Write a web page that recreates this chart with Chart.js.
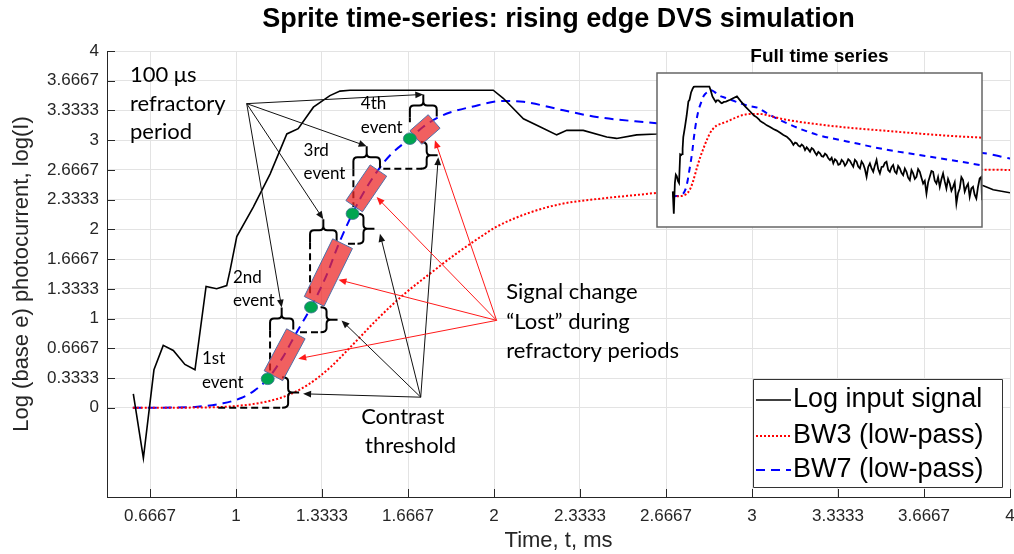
<!DOCTYPE html>
<html><head><meta charset="utf-8">
<script src="https://cdn.jsdelivr.net/npm/chart.js@4.4.1/dist/chart.umd.min.js"></script>
<style>
html,body{margin:0;padding:0;background:#fff;}
#wrap{position:relative;width:1014px;height:554px;overflow:hidden;}
#main{position:absolute;left:0;top:0;}
#inset{position:absolute;left:650px;top:40px;}
</style></head><body>
<div id="wrap"><canvas id="main" width="1014" height="554"></canvas><canvas id="inset" width="364" height="200"></canvas></div>
<script>
// ---------------- data ----------------
const xTickLabels = ['0.6667','1','1.3333','1.6667','2','2.3333','2.6667','3','3.3333','3.6667','4'];
const yTickLabels = ['0','0.3333','0.6667','1','1.3333','1.6667','2','2.3333','2.6667','3','3.3333','3.6667','4'];

// Log input signal (time in ms, value)
const tSignal = [0.602,0.641,0.682,0.718,0.757,0.802,0.841,0.884,0.925,0.964,0.977,1.003,1.067,1.132,1.197,1.241,1.300,1.364,1.403,1.442,1.997,2.036,2.114,2.178,2.243,2.282,2.346,2.437,2.475,2.553,2.630,
 2.790,2.900,3.050,3.200,3.380,3.554,3.700,3.808,3.897,3.935,4.000,4.061,4.190,4.315,4.440,4.569,4.700,4.823,4.950,
 5.077,5.140,5.204,5.268,5.331,5.395,5.458,5.521,5.584,5.648,5.711,5.775,5.838,5.902,5.965,6.028,6.092,6.155,6.219,6.283,6.346,6.410,6.473,6.537,6.600,6.664,6.727,6.790,6.854,6.918,6.981,7.045,7.108,7.171,7.234,7.298,7.361,7.425,7.488,7.551,7.615,7.678,7.742,7.805,7.869,7.932,7.996,8.059,8.123,8.187,8.250,8.313,8.377,8.440,8.504,8.568,8.631,8.694,8.757,8.821,8.884,8.948,9.011,9.074,9.138,9.201,9.265,9.328,9.392,9.455,9.519,9.582,9.646,9.709,9.773,9.836,9.900,9.963,10.027,10.090,10.154,10.217,10.281,10.344,10.407,10.471,10.534,10.598,10.661,10.724,10.788,10.851,10.915,10.978,11.042,11.105,11.169,11.233,11.296,11.359,11.423,11.486,11.550,11.613,11.677,11.740,11.804,11.867,11.930,11.994,12.057,12.120,12.184,12.247,12.311,12.375,12.400];
const logSignal = [0.157,-0.565,0.426,0.700,0.643,0.486,0.426,1.360,1.335,1.370,1.540,1.920,2.250,2.620,3.070,3.130,3.370,3.500,3.550,3.560,3.560,3.470,3.240,3.150,3.060,3.110,3.110,3.035,3.020,3.060,3.070,
 3.130,3.180,3.240,3.080,2.900,2.750,2.620,2.560,2.490,2.445,2.410,2.380,2.300,2.250,2.180,2.130,2.060,1.989,1.935,
 1.826,1.760,1.663,1.740,1.717,1.640,1.609,1.680,1.630,1.500,1.587,1.520,1.446,1.560,1.522,1.420,1.337,1.440,1.391,1.300,1.283,1.380,1.337,1.230,1.174,1.250,1.065,1.200,1.152,1.020,1.043,1.180,1.120,0.990,1.065,1.200,1.152,1.050,0.957,1.180,1.120,0.960,0.902,1.130,1.043,0.880,0.630,0.950,1.065,0.900,0.793,1.000,1.174,0.880,0.739,0.950,0.957,1.080,1.120,0.850,0.793,0.940,1.011,0.800,0.739,0.980,0.902,0.760,0.685,0.900,0.793,0.600,0.522,0.850,0.739,0.560,0.630,0.880,0.793,0.600,0.413,0.500,0.087,0.450,0.630,0.820,0.793,0.500,0.413,0.620,0.304,0.550,0.739,0.480,0.250,0.560,0.413,0.180,0.304,0.450,-0.239,0.100,0.250,0.620,0.522,0.150,0.304,0.400,-0.022,0.250,0.304,0.050,-0.076,0.300,0.576,0.630,-0.130];

// BW3 low-pass
const tBW3 = [0.600,0.860,1.000,1.120,1.200,1.280,1.364,1.450,1.550,1.650,1.750,1.850,1.950,2.010,2.140,2.269,2.398,2.630,3.000,3.300,3.600,3.900,4.000,4.820,6.090,7.360,8.630,9.900,11.170,12.400];
const bw3  = [0.000,0.003,0.020,0.070,0.140,0.260,0.450,0.700,1.000,1.270,1.500,1.720,1.920,2.030,2.190,2.290,2.340,2.410,2.550,2.640,2.670,2.670,2.665,2.500,2.340,2.220,2.130,2.040,1.960,1.900];

// BW7 low-pass
const tBW7 = [0.600,0.750,0.850,0.950,1.020,1.070,1.123,1.180,1.232,1.291,1.350,1.400,1.452,1.500,1.552,1.600,1.674,1.726,1.780,1.829,1.907,2.036,2.114,2.269,2.398,2.630,3.000,3.500,3.910,3.990,4.820,6.090,7.360,8.630,9.900,11.170,12.400];
const bw7  = [0.000,0.003,0.012,0.050,0.110,0.190,0.325,0.560,0.830,1.128,1.480,1.850,2.180,2.440,2.670,2.840,3.020,3.150,3.250,3.310,3.370,3.440,3.430,3.335,3.260,3.190,3.070,2.930,2.850,2.800,2.420,2.000,1.760,1.530,1.350,1.180,1.000];

// DVS events (time ms, log level)
const eventT = [1.123,1.291,1.452,1.674];
const eventV = [0.325,1.128,2.176,3.017];
// signal change "lost" during refractory periods (rectangles along BW7)
const lostStartT = [1.145,1.303,1.458,1.697];
const lostStartV = [0.360,1.193,2.260,3.030];
const lostEndT   = [1.232,1.413,1.552,1.768];
const lostEndV   = [0.830,1.840,2.660,3.210];
const lostWidthPx = [21,22,20,18];
// refractory period braces
const refrStartT = [1.132,1.287,1.455,1.674];
const refrEndT   = [1.222,1.390,1.558,1.778];
const refrLevel  = [1.000,1.990,2.810,3.390];
const refrDashTo = [0.385,1.240,2.250,3.200];
// contrast threshold braces
const ctT     = [1.202,1.351,1.494,1.739];
const ctLow   = [0.000,0.848,1.840,2.680];
const ctHigh  = [0.343,1.128,2.176,2.980];
const ctRefFromT = [0.931,1.248,1.434,1.571];
// annotation arrows
const refrOrigin = [1.0415,3.41];
const ctOrigin   = [1.716,0.119];
const ctTargetT  = [1.260,1.409,1.558,1.784];
const ctTargetV  = [0.157,0.980,1.950,2.810];
const lostOrigin = [2.010,0.980];
const lostTargetT = [1.241,1.397,1.545,1.771];
const lostTargetV = [0.550,1.436,2.362,3.000];

const pts = (ts, vs) => ts.map((t, i) => ({x: t, y: vs[i]}));
const AX = '#262626';
const SANS = '"Liberation Sans", Arial, sans-serif';
const NOTE = 'Lato, "Open Sans", sans-serif';

function makeDatasets(lwScale) {
  return [
    {label:'Log input signal', data: pts(tSignal, logSignal), borderColor:'#000000', borderWidth:1.6*lwScale, pointRadius:0, tension:0},
    {label:'BW3 (low-pass)', data: pts(tBW3, bw3), borderColor:'#ff0000', borderWidth:2, borderDash:[2,2], pointRadius:0, cubicInterpolationMode:'monotone'},
    {label:'BW7 (low-pass)', data: pts(tBW7, bw7), borderColor:'#0000ff', borderWidth:2, borderDash:[9,6], pointRadius:0, cubicInterpolationMode:'monotone'}
  ];
}

function arrow(ctx, x0, y0, x1, y1, color, lw, head) {
  const a = Math.atan2(y1 - y0, x1 - x0);
  const c = Math.cos(a), s = Math.sin(a);
  ctx.save();
  ctx.strokeStyle = color; ctx.fillStyle = color; ctx.lineWidth = lw; ctx.setLineDash([]);
  ctx.beginPath(); ctx.moveTo(x0, y0); ctx.lineTo(x1 - head * 0.8 * c, y1 - head * 0.8 * s); ctx.stroke();
  const w = head * 0.42;
  ctx.beginPath(); ctx.moveTo(x1, y1);
  ctx.lineTo(x1 - head * c + w * s, y1 - head * s - w * c);
  ctx.lineTo(x1 - head * c - w * s, y1 - head * s + w * c);
  ctx.closePath(); ctx.fill();
  ctx.restore();
}

const tickMarks = {
  id: 'tickMarks',
  beforeDatasetsDraw(chart) {
    const {ctx, chartArea: ca, scales: {x, y}} = chart;
    ctx.save(); ctx.strokeStyle = AX; ctx.lineWidth = 1;
    ctx.beginPath();
    x.ticks.forEach(t => { const p = Math.round(x.getPixelForValue(t.value)) + 0.5; ctx.moveTo(p, ca.bottom); ctx.lineTo(p, ca.bottom - 8); });
    y.ticks.forEach(t => { const p = Math.round(y.getPixelForValue(t.value)) + 0.5; ctx.moveTo(ca.left, p); ctx.lineTo(ca.left + 8, p); });
    ctx.stroke(); ctx.restore();
  }
};

const annot = {
  id: 'annot',
  afterDatasetsDraw(chart) {
    const {ctx, chartArea: ca, scales: {x, y}} = chart;
    const X = t => x.getPixelForValue(t), Y = v => y.getPixelForValue(v);
    ctx.save();
    ctx.lineCap = 'butt'; ctx.lineJoin = 'round';
    // dashed helper lines
    ctx.strokeStyle = '#000'; ctx.lineWidth = 2; ctx.setLineDash([7, 4]);
    for (let i = 0; i < eventT.length; i++) {
      ctx.beginPath();
      ctx.moveTo(X(refrStartT[i]), Y(refrLevel[i]) + 12); ctx.lineTo(X(refrStartT[i]), Y(refrDashTo[i]));
      ctx.moveTo(X(ctRefFromT[i]), Y(ctLow[i])); ctx.lineTo(X(ctT[i]) - 5, Y(ctLow[i]));
      ctx.stroke();
    }
    ctx.setLineDash([]);
    // refractory braces (horizontal)
    const r = 4;
    for (let i = 0; i < eventT.length; i++) {
      const x0 = X(refrStartT[i]), x1 = X(refrEndT[i]), xm = (x0 + x1) / 2, yb = Y(refrLevel[i]);
      ctx.beginPath();
      ctx.moveTo(x0, yb + 12); ctx.lineTo(x0, yb + r); ctx.quadraticCurveTo(x0, yb, x0 + r, yb);
      ctx.lineTo(xm - r, yb); ctx.quadraticCurveTo(xm, yb, xm, yb - r); ctx.lineTo(xm, yb - 11);
      ctx.moveTo(xm, yb - r); ctx.quadraticCurveTo(xm, yb, xm + r, yb);
      ctx.lineTo(x1 - r, yb); ctx.quadraticCurveTo(x1, yb, x1, yb + r); ctx.lineTo(x1, yb + 11);
      ctx.stroke();
    }
    // contrast threshold braces (vertical)
    for (let i = 0; i < eventT.length; i++) {
      const xb = X(ctT[i]), y0 = Y(ctHigh[i]), y1 = Y(ctLow[i]), ym = (y0 + y1) / 2;
      ctx.beginPath();
      ctx.moveTo(xb - 6, y0); ctx.quadraticCurveTo(xb, y0, xb, y0 + r);
      ctx.lineTo(xb, ym - r); ctx.quadraticCurveTo(xb, ym, xb + r, ym); ctx.lineTo(xb + 11, ym);
      ctx.moveTo(xb + r, ym); ctx.quadraticCurveTo(xb, ym, xb, ym + r);
      ctx.lineTo(xb, y1 - r); ctx.quadraticCurveTo(xb, y1, xb - 6, y1);
      ctx.stroke();
    }
    // lost-signal rectangles
    for (let i = 0; i < eventT.length; i++) {
      const ax = X(lostStartT[i]), ay = Y(lostStartV[i]), bx = X(lostEndT[i]), by = Y(lostEndV[i]);
      const len = Math.hypot(bx - ax, by - ay), ux = (bx - ax) / len, uy = (by - ay) / len;
      const hw = lostWidthPx[i] / 2, nx = -uy * hw, ny = ux * hw;
      ctx.beginPath();
      ctx.moveTo(ax + nx, ay + ny); ctx.lineTo(bx + nx, by + ny); ctx.lineTo(bx - nx, by - ny); ctx.lineTo(ax - nx, ay - ny); ctx.closePath();
      ctx.fillStyle = 'rgba(236,40,40,0.74)'; ctx.fill();
      ctx.strokeStyle = '#4f6fa8'; ctx.lineWidth = 1; ctx.stroke();
    }
    // event dots
    for (let i = 0; i < eventT.length; i++) {
      ctx.beginPath(); ctx.ellipse(X(eventT[i]), Y(eventV[i]), 6.5, 5.8, 0, 0, Math.PI * 2);
      ctx.fillStyle = '#00a550'; ctx.fill(); ctx.strokeStyle = '#3b6e8f'; ctx.lineWidth = 0.8; ctx.stroke();
    }
    // arrows
    const ro = [X(refrOrigin[0]), Y(refrOrigin[1])];
    for (let i = 0; i < eventT.length; i++) {
      const xm = (X(refrStartT[i]) + X(refrEndT[i])) / 2;
      arrow(ctx, ro[0], ro[1], xm, Y(refrLevel[i]) - 11, '#111', 1, 8);
    }
    const co = [X(ctOrigin[0]), Y(ctOrigin[1])];
    for (let i = 0; i < eventT.length; i++) arrow(ctx, co[0], co[1], X(ctTargetT[i]), Y(ctTargetV[i]), '#111', 1, 8);
    const lo = [X(lostOrigin[0]), Y(lostOrigin[1])];
    for (let i = 0; i < eventT.length; i++) arrow(ctx, lo[0], lo[1], X(lostTargetT[i]), Y(lostTargetV[i]), '#ff1a1a', 1, 8);
    // texts
    ctx.fillStyle = '#000'; ctx.textBaseline = 'middle'; ctx.textAlign = 'left';
    const txt = (s, t, v, size) => { ctx.font = size + 'px ' + NOTE; ctx.fillText(s, X(t), Y(v)); };
    txt('100 \u03bcs', 0.589, 3.73, 22); txt('refractory', 0.589, 3.41, 22); txt('period', 0.589, 3.09, 22);
    txt('1st', 0.868, 0.553, 17); txt('event', 0.868, 0.287, 17);
    txt('2nd', 0.988, 1.465, 17); txt('event', 0.988, 1.204, 17);
    txt('3rd', 1.262, 2.886, 17); txt('event', 1.262, 2.625, 17);
    txt('4th', 1.484, 3.41, 17); txt('event', 1.484, 3.147, 17);
    txt('Contrast', 1.485, -0.105, 22); txt('threshold', 1.500, -0.423, 22);
    txt('Signal change', 2.047, 1.297, 22); txt('\u201cLost\u201d during', 2.047, 0.96, 22); txt('refractory periods', 2.047, 0.643, 22);
    // title
    ctx.textAlign = 'center'; ctx.font = 'bold 27px ' + SANS;
    ctx.fillText('Sprite time-series: rising edge DVS simulation', (ca.left + ca.right) / 2, 20);
    // legend
    const bw = 249, bh = 108, bx = ca.right - 257, by = ca.bottom - 118;
    ctx.fillStyle = '#fff'; ctx.fillRect(bx, by, bw, bh);
    ctx.strokeStyle = '#333'; ctx.lineWidth = 1; ctx.strokeRect(bx + 0.5, by + 0.5, bw, bh);
    const rows = [21, 57, 91];
    chart.data.datasets.forEach((d, i) => {
      const yy = by + rows[i];
      ctx.save(); ctx.strokeStyle = d.borderColor; ctx.lineWidth = d.borderWidth; ctx.setLineDash(d.borderDash || []);
      ctx.beginPath(); ctx.moveTo(bx + 3, yy); ctx.lineTo(bx + 38, yy); ctx.stroke(); ctx.restore();
      ctx.fillStyle = '#000'; ctx.textAlign = 'left'; ctx.font = '27px ' + SANS;
      ctx.fillText(d.label, bx + 40, yy);
    });
    ctx.restore();
  }
};

new Chart(document.getElementById('main'), {
  type: 'line',
  data: {datasets: makeDatasets(1)},
  options: {
    responsive: false, animation: false, events: [],
    layout: {padding: {top: 51, right: 4, left: 0, bottom: 0}},
    plugins: {legend: {display: false}, tooltip: {enabled: false}, title: {display: false}},
    scales: {
      x: {
        type: 'linear', min: 0.5, max: 4,
        afterBuildTicks: s => { s.ticks = xTickLabels.map(v => ({value: parseFloat(v)})); },
        afterFit: s => { s.height = 57; s.paddingRight = 0; s.paddingLeft = 0; },
        ticks: {autoSkip: false, maxRotation: 0, padding: 9, color: AX, font: {family: SANS, size: 17}, callback: (v, i) => xTickLabels[i]},
        grid: {color: '#e3e3e3', drawTicks: false},
        border: {display: true, color: AX, width: 1},
        title: {display: true, text: 'Time, t, ms', color: AX, font: {family: SANS, size: 22}, padding: {top: 0, bottom: 0}}
      },
      y: {
        type: 'linear', min: -1, max: 4,
        afterBuildTicks: s => { s.ticks = yTickLabels.map(v => ({value: parseFloat(v)})); },
        afterFit: s => { s.width = 107; },
        ticks: {autoSkip: false, padding: 8, color: AX, font: {family: SANS, size: 17}, callback: (v, i) => yTickLabels[i]},
        grid: {color: '#e3e3e3', drawTicks: false},
        border: {display: true, color: AX, width: 1},
        title: {display: true, text: 'Log (base e) photocurrent, log(I)', color: AX, font: {family: SANS, size: 22}, padding: {top: 9, bottom: 0}}
      }
    }
  },
  plugins: [tickMarks, annot]
});

const insetFrame = {
  id: 'insetFrame',
  beforeDatasetsDraw(chart) {
    const {ctx, chartArea: ca} = chart;
    ctx.save(); ctx.fillStyle = '#fff'; ctx.fillRect(ca.left, ca.top, ca.right - ca.left, ca.bottom - ca.top); ctx.restore();
  },
  afterDraw(chart) {
    const {ctx, chartArea: ca} = chart;
    ctx.save();
    ctx.strokeStyle = '#666'; ctx.lineWidth = 1.5;
    ctx.strokeRect(ca.left, ca.top, ca.right - ca.left, ca.bottom - ca.top);
    ctx.fillStyle = '#000'; ctx.font = 'bold 19px ' + SANS; ctx.textAlign = 'center'; ctx.textBaseline = 'middle';
    ctx.fillText('Full time series', (ca.left + ca.right) / 2, ca.top - 16);
    ctx.restore();
  }
};

const insetSets = makeDatasets(1.1);
insetSets[2].borderDash = [6, 5];
new Chart(document.getElementById('inset'), {
  type: 'line',
  data: {datasets: insetSets},
  options: {
    responsive: false, animation: false, events: [],
    layout: {padding: {left: 7, right: 32, top: 33, bottom: 13}},
    plugins: {legend: {display: false}, tooltip: {enabled: false}},
    scales: {
      x: {type: 'linear', min: 0, max: 12.4, display: false},
      y: {type: 'linear', min: -1, max: 4, display: false}
    }
  },
  plugins: [insetFrame]
});
</script>
</body></html>
